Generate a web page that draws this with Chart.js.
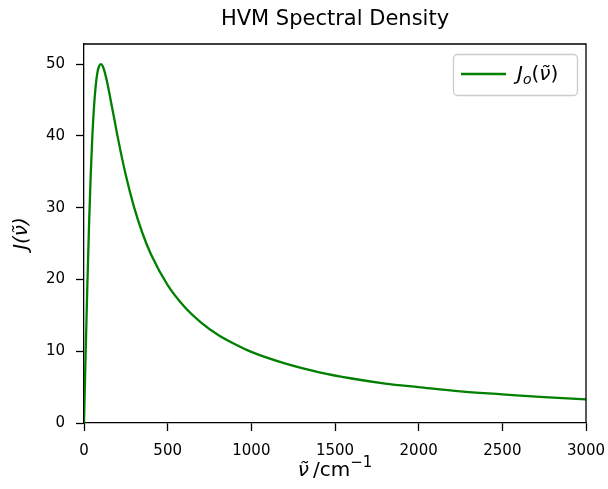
<!DOCTYPE html>
<html>
<head>
  <title>HVM Spectral Density</title>
  <script src="https://cdn.jsdelivr.net/npm/chart.js"></script>
  <style>
    html, body { margin: 0; padding: 0; background: #fff; }
  </style>
</head>
<body>
  <div style="width:608px;height:489px;">
    <canvas id="chart" width="608" height="489"></canvas>
  </div>
  <script>
    // values
    const wavenumber = [0, 5, 10, 20, 30, 40, 50, 60, 70, 80, 90, 100, 110, 120, 140, 160, 180, 200,
      250, 300, 350, 400, 500, 600, 700, 800, 900, 1000, 1200, 1400, 1600, 1800, 2000, 2250, 2500, 2750, 3000];
    const spectralDensity = [0, 5.0, 9.9, 19.2, 27.5, 34.5, 40.0, 44.1, 47.0, 48.8, 49.7, 50.0, 49.8, 49.2, 47.3, 44.9, 42.5, 40.0,
      34.5, 30.0, 26.4, 23.5, 19.2, 16.2, 14.0, 12.3, 11.0, 9.9, 8.3, 7.1, 6.2, 5.5, 5.0, 4.4, 4.0, 3.6, 3.3];
    const xTicks = [0, 500, 1000, 1500, 2000, 2500, 3000];
    const yTicks = [0, 10, 20, 30, 40, 50];

    const FONT = '"DejaVu Sans", sans-serif';

    // draw a run of [text, font, dy, advance] pieces starting at x
    function drawRun(c, parts, x, base) {
      parts.forEach(p => {
        c.font = p[1];
        c.fillText(p[0], x, base + (p[2] || 0));
        x += p[3] !== undefined ? p[3] : c.measureText(p[0]).width;
      });
    }
    function runWidth(c, parts) {
      let w = 0;
      parts.forEach(p => {
        c.font = p[1];
        w += p[3] !== undefined ? p[3] : c.measureText(p[0]).width;
      });
      return w;
    }

    //title, frame on top/right, x label and the in-plot legend
    const framePlugin = {
      id: 'frame',
      afterDraw(chart) {
        const c = chart.ctx;
        const a = chart.chartArea;
        c.save();
        c.strokeStyle = '#000';
        c.lineWidth = 1.3;
        c.beginPath();
        c.moveTo(a.left, a.top);
        c.lineTo(a.right, a.top);
        c.lineTo(a.right, a.bottom);
        c.stroke();

        c.fillStyle = '#000';
        c.textAlign = 'center';
        c.textBaseline = 'middle';
        c.font = '21px ' + FONT;
        c.fillText('HVM Spectral Density', (a.left + a.right) / 2, 20);

        // x axis label: ν̃ /cm^-1
        c.textAlign = 'left';
        c.textBaseline = 'alphabetic';
        c.font = 'italic 20px ' + FONT;
        const nuW = c.measureText('\u03BD').width + 4;
        const xlab = [
          ['\u03BD\u0303', 'italic 20px ' + FONT, 0, nuW],
          ['/cm', '20px ' + FONT, 0],
          ['\u22121', '15px ' + FONT, -9]
        ];
        drawRun(c, xlab, (a.left + a.right) / 2 - runWidth(c, xlab) / 2, 476);

        // legend box
        const bx = 453, by = 54, bw = 124, bh = 41;
        c.fillStyle = 'rgba(255,255,255,0.8)';
        c.strokeStyle = '#cccccc';
        c.lineWidth = 1.3;
        c.beginPath();
        c.roundRect(bx + 0.5, by + 0.5, bw, bh, 4);
        c.fill();
        c.stroke();

        c.strokeStyle = '#008000';
        c.lineWidth = 2.3;
        c.beginPath();
        c.moveTo(461, 74);
        c.lineTo(506, 74);
        c.stroke();

        // J_o(ν̃)
        c.fillStyle = '#000';
        c.font = 'italic 20px ' + FONT;
        const nuW2 = c.measureText('\u03BD').width;
        drawRun(c, [
          ['J', 'italic 20px ' + FONT, 0],
          ['o', 'italic 14px ' + FONT, 4],
          ['(', '20px ' + FONT, 0],
          ['\u03BD\u0303', 'italic 20px ' + FONT, 0, nuW2],
          [')', '20px ' + FONT, 0]
        ], 517, 80);
        c.restore();
      }
    };

    const ctx = document.getElementById('chart').getContext('2d');
    const hvmChart = new Chart(ctx, {
      type: 'line',
      data: {
        datasets: [{
          label: 'J_o',
          data: wavenumber.map((v, i) => ({ x: v, y: spectralDensity[i] })),
          borderColor: '#008000',
          borderWidth: 2.3,
          pointRadius: 0,
          fill: false,
          cubicInterpolationMode: 'monotone'
        }]
      },
      options: {
        responsive: false,
        animation: false,
        layout: { padding: { left: 0, right: 22, top: 44, bottom: 0 } },
        plugins: {
          legend: { display: false },
          tooltip: { enabled: false }
        },
        scales: {
          x: {
            type: 'linear',
            min: 0,
            max: 3000,
            afterBuildTicks: axis => { axis.ticks = xTicks.map(v => ({ value: v })); },
            afterFit: axis => { axis.height = 66; axis.paddingLeft = 0; axis.paddingRight = 0; },
            ticks: {
              color: '#000',
              font: { family: FONT, size: 15 },
              padding: 11,
              maxRotation: 0,
              callback: v => String(v)
            },
            grid: { drawOnChartArea: false, drawTicks: true, tickLength: 8, tickColor: '#000', tickWidth: 1.3 },
            border: { color: '#000', width: 1.3 }
          },
          y: {
            min: 0,
            max: 52.8,
            afterBuildTicks: axis => { axis.ticks = yTicks.map(v => ({ value: v })); },
            afterFit: axis => { axis.width = 84; axis.paddingTop = 0; axis.paddingBottom = 0; },
            ticks: {
              color: '#000',
              font: { family: FONT, size: 15 },
              padding: 11,
              callback: v => String(v)
            },
            grid: { drawOnChartArea: false, drawTicks: true, tickLength: 8, tickColor: '#000', tickWidth: 1.3 },
            border: { color: '#000', width: 1.3 },
            title: {
              display: true,
              text: 'J(\u03BD\u0303)',
              color: '#000',
              font: { family: FONT, size: 20, style: 'italic' },
              padding: { top: 10, bottom: 12 }
            }
          }
        }
      },
      plugins: [framePlugin]
    });
  </script>
</body>
</html>
